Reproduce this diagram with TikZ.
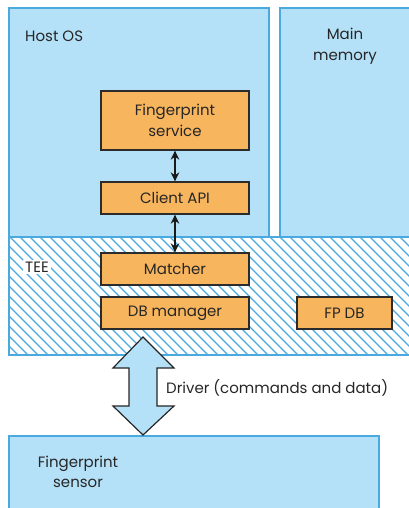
\documentclass[tikz,border=0pt]{standalone}
\usepackage{fontspec}
\setmainfont{Poppins}
\usetikzlibrary{arrows.meta,calc}
\definecolor{skyfill}{HTML}{B5E1F8}
\definecolor{skyline}{HTML}{4AA9DF}
\definecolor{boxfill}{HTML}{F7B55E}
\definecolor{boxline}{HTML}{2B2B2B}
\newcommand{\labelfont}{\fontsize{15}{20.5}\selectfont}
\begin{document}
\begin{tikzpicture}[x=1pt,y=-1pt,
  region/.style={draw=skyline,fill=skyfill,line width=1.3pt},
  unit/.style={draw=boxline,fill=boxfill,line width=1.3pt,minimum width=148pt,align=center,inner sep=0pt,font=\labelfont,text=black!85},
  lbl/.style={font=\labelfont,text=black!85,align=center,inner sep=0pt},
  link/.style={line width=1.8pt,black!90,{Stealth[length=9pt,width=8.5pt]}-{Stealth[length=9pt,width=8.5pt]}}]
\useasboundingbox (0,0) rectangle (408,508);

% host and memory regions
\draw[region] (9,8) rectangle (269,239);
\draw[region] (280,8) rectangle (415,239);

% trusted execution environment, hatched
\fill[white] (9,237) rectangle (415,355);
\begin{scope}
  \clip (9,237) rectangle (415,355);
  \foreach \x in {-120,-110,...,420}
    \draw[skyline,line width=1.1pt] (\x,237) -- ++(118,118);
\end{scope}
\draw[skyline,line width=1.3pt] (415,237) -- (9,237) -- (9,355) -- (415,355);

% sensor
\draw[region] (9,436) rectangle (379,515);

% labels of regions
\node[lbl,anchor=west] (host) at (25,36) {Host OS};
\node[lbl] (mem) at (345,46) {Main\\memory};
\node[lbl,anchor=west,fill=white,inner sep=2pt] (tee) at (23,267) {TEE};
\node[lbl] (sens) at (78,472) {Fingerprint\\sensor};

% software units
\node[unit,minimum height=59pt] (svc) at (175,120.5) {Fingerprint\\service};
\node[unit,minimum height=32pt] (api) at (175,198) {Client API};
\node[unit,minimum height=32pt] (match) at (175,269) {Matcher};
\node[unit,minimum height=32pt] (dbm) at (175,313) {DB manager};
\node[unit,minimum width=95pt,minimum height=32pt] (fpdb) at (344.5,313) {FP DB};

% calls between units
\draw[link] (svc.south) -- (api.north);
\draw[link] (api.south) -- (match.north);

% driver channel
\coordinate (top) at (143,337);
\coordinate (bot) at (143,435);
\draw[fill=skyfill,draw=black!85,line width=1.2pt,line join=miter]
  (top) -- ++(31,31) -- ++(-17,0) -- ++(0,38) -- ++(17,0) -- (bot)
  -- ++(-30,-29) -- ++(16,0) -- ++(0,-38) -- ++(-16,0) -- cycle;
\node[lbl,anchor=west] (drv) at (166,388) {Driver (commands and data)};
\end{tikzpicture}
\end{document}
